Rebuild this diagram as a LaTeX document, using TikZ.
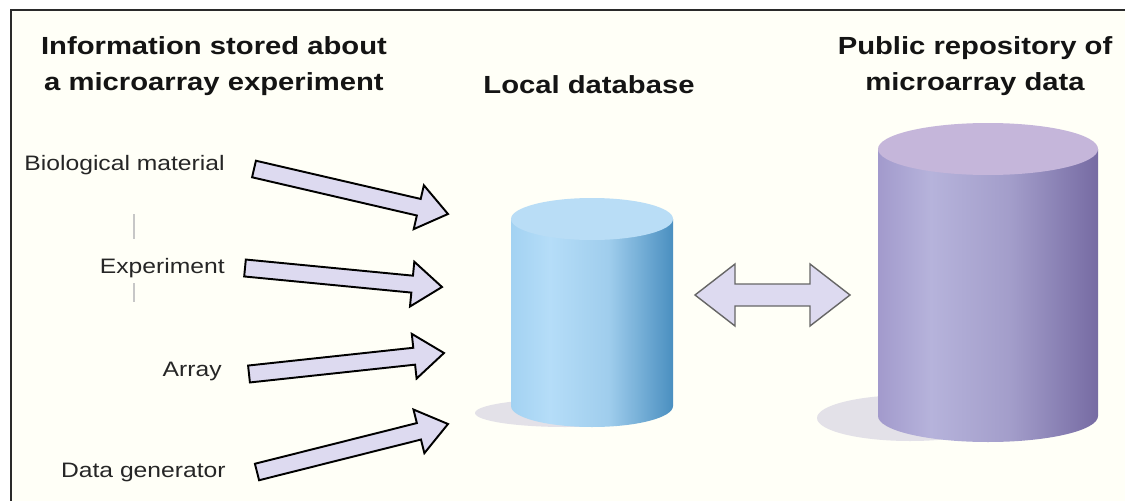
\documentclass[tikz,border=0pt]{standalone}
\usepackage{fontspec}
\setmainfont{Liberation Sans}
\newfontfamily\labelfont[FakeStretch=1.18]{Liberation Sans}
\newfontfamily\titlefont[FakeStretch=1.18]{Liberation Sans}
\usetikzlibrary{calc}

\definecolor{paper}{HTML}{FFFFF7}
\definecolor{framecol}{HTML}{2A2A2A}
\definecolor{arrowfill}{HTML}{DDDAF0}
\definecolor{shadowcol}{HTML}{E3E1E8}
\definecolor{blueTop}{HTML}{B9DDF6}
\definecolor{blueA}{HTML}{A3D2F2}
\definecolor{blueB}{HTML}{B5DDF8}
\definecolor{blueC}{HTML}{4A8FC0}
\definecolor{purpleTop}{HTML}{C5B6DA}
\definecolor{purpleA}{HTML}{A29ACC}
\definecolor{purpleB}{HTML}{B6B3DB}
\definecolor{purpleC}{HTML}{766BA3}

% body gradients of the two cylinders (path box maps to 25bp..75bp)
\pgfdeclarehorizontalshading{blueBody}{100bp}{color(0bp)=(blueA); color(25bp)=(blueA);
  color(37bp)=(blueB); color(55bp)=(blueB!80!blueC); color(75bp)=(blueC); color(100bp)=(blueC)}
\pgfdeclarehorizontalshading{purpleBody}{100bp}{color(0bp)=(purpleA); color(25bp)=(purpleA);
  color(37bp)=(purpleB); color(55bp)=(purpleB!70!purpleC); color(75bp)=(purpleC); color(100bp)=(purpleC)}

\tikzset{
  title/.style={font=\titlefont\bfseries\fontsize{14.1}{20.4}\selectfont, align=center, text=black!92},
  itemlabel/.style={font=\labelfont\fontsize{11.9}{13}\selectfont, anchor=east, text=black!85, inner sep=0pt},
  blockarrow/.style={fill=arrowfill, draw=black, line width=1.1pt, line join=miter},
  dblarrow/.style={fill=arrowfill, draw=black!60, line width=0.8pt, line join=miter},
  tick/.style={draw=black!22, line width=0.9pt},
}

% flat block arrow from tail #1 to tip #2: shaft half width #3, head half width #4, head length #5
\newcommand\blockarrowpath[5]{%
  \coordinate (ba-base) at ($(#2)!#5!(#1)$);
  \path[blockarrow]
    ($(#1)!#3!90:(#2)$) -- ($(ba-base)!#3!90:(#2)$) -- ($(ba-base)!#4!90:(#2)$) -- (#2)
    -- ($(ba-base)!#4!-90:(#2)$) -- ($(ba-base)!#3!-90:(#2)$) -- ($(#1)!#3!-90:(#2)$) -- cycle;
}

\begin{document}
\begin{tikzpicture}[x=0.02cm, y=-0.02cm]
  \useasboundingbox (0,0) rectangle (1125,500);
  \clip (0,0) rectangle (1125,500);
  \fill[white] (0,0) rectangle (1125,500);
  \fill[paper] (11,10) rectangle (1130,505);
  \draw[framecol, line width=1.6pt] (11,505) -- (11,10) -- (1130,10);

  % headings
  \node[title] (hInfo) at (214,66) {Information stored about\\a microarray experiment};
  \node[title] (hLocal) at (589,85) {Local database};
  \node[title] (hPublic) at (975,66) {Public repository of\\microarray data};

  % items
  \node[itemlabel] (bio) at (225,165) {Biological material};
  \node[itemlabel] (exp) at (225,268) {Experiment};
  \node[itemlabel] (arr) at (222,371) {Array};
  \node[itemlabel] (gen) at (226,472) {Data generator};

  % faint guide marks
  \coordinate (g1) at (134,214); \coordinate (g2) at (134,239);
  \coordinate (g3) at (134,283); \coordinate (g4) at (134,302);
  \draw[tick] (g1) -- (g2);
  \draw[tick] (g3) -- (g4);

  % block arrows into the local database
  \coordinate (t1) at (254,169); \coordinate (p1) at (448,214);
  \coordinate (t2) at (245,268); \coordinate (p2) at (442,287);
  \coordinate (t3) at (249,374); \coordinate (p3) at (444,353);
  \coordinate (t4) at (257,472); \coordinate (p4) at (448,424);
  \blockarrowpath{t1}{p1}{0.17cm}{0.45cm}{0.6cm}
  \blockarrowpath{t2}{p2}{0.17cm}{0.45cm}{0.6cm}
  \blockarrowpath{t3}{p3}{0.17cm}{0.45cm}{0.6cm}
  \blockarrowpath{t4}{p4}{0.17cm}{0.45cm}{0.6cm}

  % local database cylinder
  \fill[shadowcol] (565,413) ellipse [x radius=90, y radius=14];
  \shade[shading=blueBody] (511,219) -- (511,406) arc[start angle=180, end angle=0, x radius=81, y radius=21] -- (673,219) -- cycle;
  \fill[blueTop] (592,219) ellipse [x radius=81, y radius=21];
  \coordinate (localdb) at (592,310);

  % public repository cylinder
  \fill[shadowcol] (910,418) ellipse [x radius=93, y radius=23];
  \shade[shading=purpleBody] (878,149) -- (878,416) arc[start angle=180, end angle=0, x radius=110, y radius=26] -- (1098,149) -- cycle;
  \fill[purpleTop] (988,149) ellipse [x radius=110, y radius=26];
  \coordinate (publicdb) at (988,290);

  % two-way exchange arrow
  \coordinate (dl) at (695,295); \coordinate (dr) at (850,295);
  \path[dblarrow] (dl) -- ($(dl)+(40,-31)$) -- ($(dl)+(40,-11)$) -- ($(dr)+(-40,-11)$) -- ($(dr)+(-40,-31)$)
    -- (dr) -- ($(dr)+(-40,31)$) -- ($(dr)+(-40,11)$) -- ($(dl)+(40,11)$) -- ($(dl)+(40,31)$) -- cycle;
\end{tikzpicture}
\end{document}
